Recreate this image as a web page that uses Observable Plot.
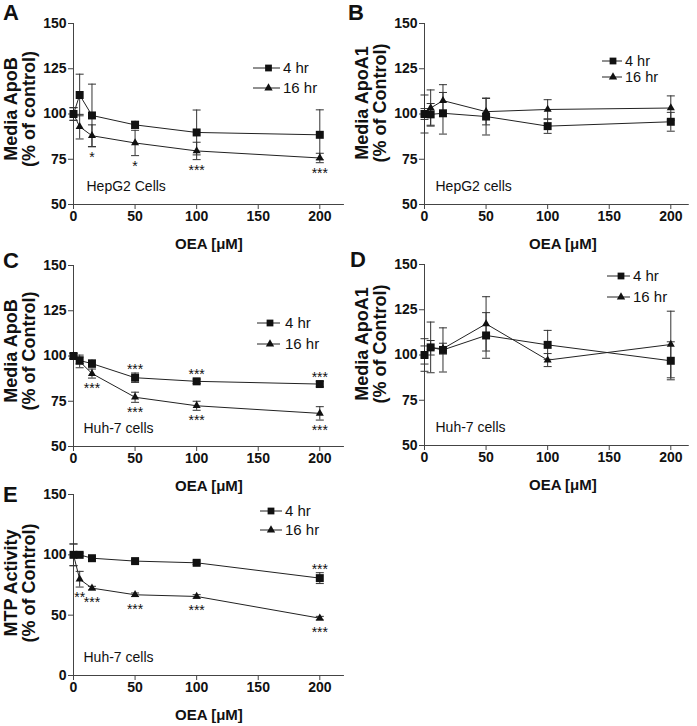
<!DOCTYPE html>
<html><head><meta charset="utf-8">
<script src="https://cdn.jsdelivr.net/npm/d3@7"></script>
<script src="https://cdn.jsdelivr.net/npm/@observablehq/plot@0.6"></script>
<style>
body{margin:0;background:#fff;}
#fig{position:relative;width:697px;height:726px;overflow:hidden;font-family:"Liberation Sans",Arial,sans-serif;color:#111;}
.panel{position:absolute;}
.panel svg{overflow:visible;}
.letter{position:absolute;font:bold 22px "Liberation Sans",Arial,sans-serif;line-height:1;}
</style></head><body><div id="fig"></div>
<script>
// ---------- data ----------
const oea = [0, 5, 15, 50, 100, 200];
const seriesNames = ["4 hr", "16 hr"];
const xTicks = [0, 50, 100, 150, 200];
const yTicksApo = [50, 75, 100, 125, 150];
const yTicksMtp = [0, 50, 100, 150];

// A: HepG2 media ApoB
const apoBHepG2_4h      = [100, 110.5, 99.2, 94.0, 89.8, 88.5];
const apoBHepG2_4h_sem  = [3.5, 11.5, 17.3, 2.0, 12.4, 13.8];
const apoBHepG2_16h     = [100, 93.0, 88.0, 84.0, 79.6, 75.7];
const apoBHepG2_16h_sem = [3.5, 6.8, 6.0, 7.0, 4.8, 2.6];
// B: HepG2 media ApoA1
const apoA1HepG2_4h      = [100, 99.8, 100.4, 98.6, 93.3, 95.7];
const apoA1HepG2_4h_sem  = [10.5, 6.0, 11.5, 10.2, 4.0, 5.2];
const apoA1HepG2_16h     = [100, 103.3, 107.4, 101.3, 102.5, 103.3];
const apoA1HepG2_16h_sem = [3.0, 10.0, 8.8, 7.3, 5.4, 6.7];
// C: Huh-7 media ApoB
const apoBHuh7_4h      = [100, 97.5, 95.8, 88.0, 86.0, 84.5];
const apoBHuh7_4h_sem  = [1.5, 2.0, 2.0, 2.6, 1.2, 1.5];
const apoBHuh7_16h     = [100, 97.0, 90.3, 77.2, 72.5, 68.3];
const apoBHuh7_16h_sem = [1.5, 3.5, 2.5, 2.8, 2.5, 3.7];
// D: Huh-7 media ApoA1
const apoA1Huh7_4h      = [100, 104.2, 102.8, 110.8, 105.6, 96.8];
const apoA1Huh7_4h_sem  = [9.0, 14.0, 12.2, 12.6, 8.0, 10.5];
const apoA1Huh7_16h     = [100, 104.0, 103.5, 117.2, 97.2, 105.8];
const apoA1Huh7_16h_sem = [5.0, 4.0, 3.0, 15.0, 3.6, 18.4];
// E: Huh-7 MTP activity
const mtpHuh7_4h      = [100, 100, 97.2, 94.8, 93.4, 80.7];
const mtpHuh7_4h_sem  = [9.0, 1.5, 1.5, 1.5, 1.5, 4.5];
const mtpHuh7_16h     = [100, 79.8, 72.4, 66.9, 65.5, 47.5];
const mtpHuh7_16h_sem = [9.0, 6.5, 1.5, 1.5, 1.5, 1.5];

// significance marks
const starsA = [
  {x: 15, series: "16 hr", label: "*", side: "below"},
  {x: 50, series: "16 hr", label: "*", side: "below"},
  {x: 100, series: "16 hr", label: "***", side: "below"},
  {x: 200, series: "16 hr", label: "***", side: "below"}
];
const starsB = [];
const starsC = [
  {x: 50, series: "4 hr", label: "***", side: "above"},
  {x: 100, series: "4 hr", label: "***", side: "above"},
  {x: 200, series: "4 hr", label: "***", side: "above"},
  {x: 15, series: "16 hr", label: "***", side: "below"},
  {x: 50, series: "16 hr", label: "***", side: "below"},
  {x: 100, series: "16 hr", label: "***", side: "below"},
  {x: 200, series: "16 hr", label: "***", side: "below"}
];
const starsD = [];
const starsE = [
  {x: 200, series: "4 hr", label: "***", side: "above"},
  {x: 5, series: "16 hr", label: "**", side: "below"},
  {x: 15, series: "16 hr", label: "***", side: "below"},
  {x: 50, series: "16 hr", label: "***", side: "below"},
  {x: 100, series: "16 hr", label: "***", side: "below"},
  {x: 200, series: "16 hr", label: "***", side: "below"}
];

// ---------- helpers ----------
const FONT = "Liberation Sans, Arial, sans-serif";
const INK = "#111";
const PLOT_H = 181;
const PX_PER_X = 246.3 / 200;

function buildRows(m4, s4, m16, s16) {
  const rows = [];
  oea.forEach((x, i) => rows.push({x, series: seriesNames[0], mean: m4[i], sem: s4[i], lo: m4[i] - s4[i], hi: m4[i] + s4[i]}));
  oea.forEach((x, i) => rows.push({x, series: seriesNames[1], mean: m16[i], sem: s16[i], lo: m16[i] - s16[i], hi: m16[i] + s16[i]}));
  return rows;
}

const capSymbol = {
  draw(ctx, size) { const w = Math.sqrt(size / Math.PI); ctx.moveTo(-w, 0); ctx.lineTo(w, 0); }
};

function legendMark(L) {
  return (index, scales, values, dims) => {
    const g = d3.create("svg:g").attr("font-family", FONT).attr("font-size", L.fs || 15).attr("font-weight", "normal").attr("fill", INK).attr("text-anchor", "start");
    const x0 = dims.marginLeft, y0 = dims.marginTop;
    const syms = [[d3.symbolSquare, 46], [d3.symbolTriangle, 30]];
    seriesNames.forEach((name, i) => {
      const y = y0 + L.rows[i];
      g.append("line").attr("x1", x0 + L.x1).attr("x2", x0 + L.x2).attr("y1", y).attr("y2", y).attr("stroke", "#222").attr("stroke-width", 1);
      g.append("path").attr("d", d3.symbol(syms[i][0], syms[i][1])()).attr("transform", `translate(${x0 + L.mx},${y})`).attr("fill", INK);
      g.append("text").attr("x", x0 + L.tx).attr("y", y).attr("dy", "0.36em").attr("text-anchor", "start").text(name);
    });
    return g.node();
  };
}

function makePanel(cfg) {
  const data = buildRows(cfg.m4, cfg.s4, cfg.m16, cfg.s16);
  const ppu = PLOT_H / (cfg.yDomain[1] - cfg.yDomain[0]);
  const plotW = cfg.xmax * PX_PER_X;
  const width = Math.round(cfg.ml + plotW + 4);
  const starMarks = cfg.stars.map(s => {
    const d = data.find(r => r.x === s.x && r.series === s.series);
    const endPx = Math.max(d.sem * ppu, 4);
    const dy = s.side === "below" ? endPx + 10.5 : -(endPx + 3);
    return Plot.text([s], {x: "x", y: () => d.mean, text: "label", dy, fontSize: 14, fontWeight: "normal", fill: INK, lineAnchor: "middle"});
  });
  return Plot.plot({
    width, height: cfg.height || 250,
    marginLeft: cfg.ml, marginRight: width - cfg.ml - plotW, marginTop: 23, marginBottom: (cfg.height || 250) - 23 - PLOT_H,
    style: {fontFamily: FONT, fontSize: "14px", fontWeight: "bold", color: INK, background: "transparent", overflow: "visible"},
    x: {domain: [0, cfg.xmax]},
    y: {domain: cfg.yDomain},
    marks: [
      Plot.axisX(xTicks, {tickSize: 5, tickPadding: 2, label: null, stroke: "#444", fontSize: 14}),
      Plot.axisY(cfg.yTicks, {tickSize: 5, tickPadding: 2, label: null, stroke: "#444", fontSize: 14}),
      Plot.ruleY([cfg.yDomain[0]], {stroke: "#444", strokeWidth: 1}),
      Plot.ruleX([0], {stroke: "#444", strokeWidth: 1}),
      Plot.line(data, {x: "x", y: "mean", z: "series", stroke: "#222", strokeWidth: 1}),
      Plot.ruleX(data, {x: "x", y1: "lo", y2: "hi", stroke: "#333", strokeWidth: 1}),
      Plot.dot(data, {x: "x", y: "lo", symbol: capSymbol, r: 4, stroke: "#333", strokeWidth: 1, fill: "none"}),
      Plot.dot(data, {x: "x", y: "hi", symbol: capSymbol, r: 4, stroke: "#333", strokeWidth: 1, fill: "none"}),
      Plot.dot(data.filter(d => d.series === "16 hr"), {x: "x", y: "mean", symbol: "triangle", r: 3, fill: INK, stroke: "none"}),
      Plot.dot(data.filter(d => d.series === "4 hr"), {x: "x", y: "mean", symbol: "square", r: 4.5, fill: INK, stroke: "none"}),
      ...starMarks,
      Plot.text([cfg.cell], {frameAnchor: "bottom-left", dx: cfg.cellDx, dy: -18, textAnchor: "start", lineAnchor: "middle", fontSize: 14, fontWeight: "normal", fill: INK}),
      Plot.text([cfg.ylabel], {frameAnchor: "left", rotate: -90, dx: -53, dy: cfg.ylabelDy, textAnchor: "middle", lineAnchor: "middle", lineHeight: 1, fontSize: 18, fontWeight: "bold", fill: INK}),
      Plot.text(["OEA [μM]"], {frameAnchor: "bottom", dy: 40, dx: cfg.xlabelDx, lineAnchor: "middle", fontSize: 15, fontWeight: "bold", fill: INK}),
      legendMark(cfg.legend)
    ]
  });
}

const panels = [
  {letter: "A", lx: 3, ly: 2, left: 0, top: 0, ml: 73, xmax: 220, yDomain: [50, 150], yTicks: yTicksApo,
   ylabel: "Media ApoB\n(% of control)", ylabelDy: -5, cell: "HepG2 Cells", cellDx: 13, xlabelDx: 0,
   m4: apoBHepG2_4h, s4: apoBHepG2_4h_sem, m16: apoBHepG2_16h, s16: apoBHepG2_16h_sem, stars: starsA,
   legend: {rows: [45, 65], x1: 180, x2: 207, mx: 195.5, tx: 210}},
  {letter: "B", lx: 348, ly: 2, left: 349, top: 0, ml: 75, xmax: 215, yDomain: [50, 150], yTicks: yTicksApo,
   ylabel: "Media ApoA1\n(% of Control)", ylabelDy: -11, cell: "HepG2 cells", cellDx: 11, xlabelDx: 6,
   m4: apoA1HepG2_4h, s4: apoA1HepG2_4h_sem, m16: apoA1HepG2_16h, s16: apoA1HepG2_16h_sem, stars: starsB,
   legend: {rows: [38, 54], x1: 178, x2: 198, mx: 189, tx: 201, fs: 14.5}},
  {letter: "C", lx: 3, ly: 250, left: 0, top: 242, ml: 73, xmax: 220, yDomain: [50, 150], yTicks: yTicksApo,
   ylabel: "Media ApoB\n(% of Control)", ylabelDy: -5, cell: "Huh-7 cells", cellDx: 10, xlabelDx: 0,
   m4: apoBHuh7_4h, s4: apoBHuh7_4h_sem, m16: apoBHuh7_16h, s16: apoBHuh7_16h_sem, stars: starsC,
   legend: {rows: [58, 79], x1: 184, x2: 207, mx: 197, tx: 212}},
  {letter: "D", lx: 350, ly: 249, left: 349, top: 241, ml: 75, xmax: 215, yDomain: [50, 150], yTicks: yTicksApo,
   ylabel: "Media ApoA1\n(% of Control)", ylabelDy: -11, cell: "Huh-7 cells", cellDx: 11, xlabelDx: 6,
   m4: apoA1Huh7_4h, s4: apoA1Huh7_4h_sem, m16: apoA1Huh7_16h, s16: apoA1Huh7_16h_sem, stars: starsD,
   legend: {rows: [12, 33], x1: 183, x2: 206, mx: 197, tx: 209}},
  {letter: "E", lx: 3, ly: 484, left: 0, top: 471, ml: 73, xmax: 220, yDomain: [0, 150], yTicks: yTicksMtp, height: 255,
   ylabel: "MTP Activity\n(% of Control)", ylabelDy: -2, cell: "Huh-7 cells", cellDx: 10, xlabelDx: 0,
   m4: mtpHuh7_4h, s4: mtpHuh7_4h_sem, m16: mtpHuh7_16h, s16: mtpHuh7_16h_sem, stars: starsE,
   legend: {rows: [17, 36], x1: 187, x2: 209, mx: 198, tx: 212}}
];

const fig = document.getElementById("fig");
panels.forEach(cfg => {
  const div = document.createElement("div");
  div.className = "panel";
  div.style.left = cfg.left + "px";
  div.style.top = cfg.top + "px";
  div.appendChild(makePanel(cfg));
  fig.appendChild(div);
  const L = document.createElement("div");
  L.className = "letter";
  L.style.left = cfg.lx + "px";
  L.style.top = cfg.ly + "px";
  L.textContent = cfg.letter;
  fig.appendChild(L);
});
</script></body></html>
